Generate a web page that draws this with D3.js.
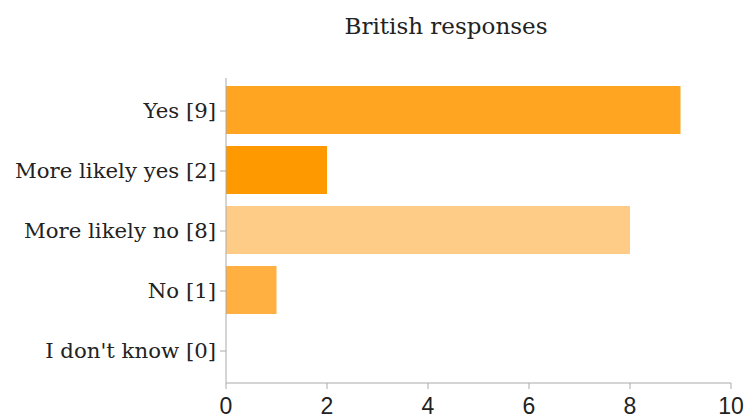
<!DOCTYPE html>
<html><head><meta charset="utf-8">
<script src="https://cdn.jsdelivr.net/npm/d3@7"></script>
<style>body{margin:0;background:#fff}</style>
</head><body>
<svg id="c" width="745" height="414"></svg>
<script>
const categories = ["Yes [9]", "More likely yes [2]", "More likely no [8]", "No [1]", "I don't know [0]"];
const values = [9, 2, 8, 1, 0];
const colors = ["#ffa521", "#ff9900", "#ffcc88", "#ffb040", "#ffd9a0"];
const xTicks = [0, 2, 4, 6, 8, 10];
const title = "British responses";

const svg = d3.select("#c");
const x = d3.scaleLinear().domain([0, 10]).range([226, 731]);
const y = d3.scaleBand().domain(categories).range([80, 380]).paddingInner(0.2).paddingOuter(0.1);
const serif = "DejaVu Serif, serif";

const t = svg.append("text").attr("x", 446).attr("y", 34).attr("text-anchor", "middle")
  .attr("font-family", serif).attr("font-size", 20).attr("fill", "#222").text(title);
const tw = t.node().getComputedTextLength();
t.attr("font-size", 20 * 203 / tw);

svg.selectAll("rect.bar").data(values).enter().append("rect")
  .attr("x", x(0)).attr("y", (d, i) => y(categories[i]))
  .attr("width", d => x(d) - x(0)).attr("height", y.bandwidth())
  .attr("fill", (d, i) => colors[i]);

const axisColor = "#aaa";
svg.append("line").attr("x1", x(0)).attr("x2", x(0)).attr("y1", 78).attr("y2", 383).attr("stroke", axisColor);
const labels = [];
categories.forEach(c => {
  const cy = y(c) + y.bandwidth() / 2 + 1;
  svg.append("line").attr("x1", x(0) - 6).attr("x2", x(0)).attr("y1", cy).attr("y2", cy).attr("stroke", axisColor);
  labels.push(svg.append("text").attr("x", x(0) - 10).attr("y", cy).attr("dy", "0.35em").attr("text-anchor", "end")
    .attr("font-family", serif).attr("font-size", 18).attr("fill", "#222").text(c));
});
const lw = labels[1].node().getComputedTextLength();
const fs = 18 * 201 / lw;
labels.forEach(l => l.attr("font-size", fs));

svg.append("line").attr("x1", x(0)).attr("x2", x(10)).attr("y1", 383).attr("y2", 383).attr("stroke", axisColor);
xTicks.forEach(v => {
  svg.append("line").attr("x1", x(v)).attr("x2", x(v)).attr("y1", 383).attr("y2", 389).attr("stroke", axisColor);
  svg.append("text").attr("x", x(v)).attr("y", 414).attr("text-anchor", "middle")
    .attr("font-family", "Liberation Sans, Arial, sans-serif").attr("font-size", 23).attr("fill", "#222").text(v);
});
</script>
</body></html>
